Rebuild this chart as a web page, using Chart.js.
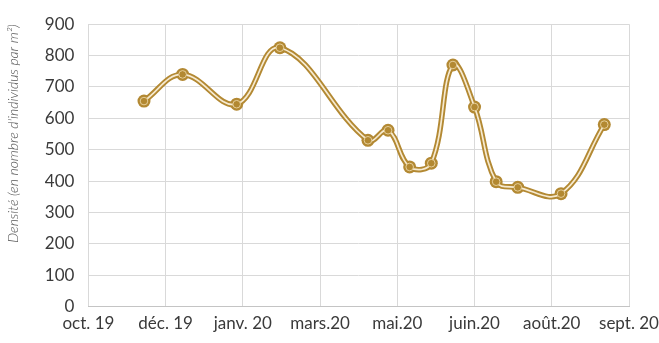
<!DOCTYPE html>
<html>
<head>
<meta charset="utf-8">
<script src="https://cdn.jsdelivr.net/npm/chart.js@4/dist/chart.umd.min.js"></script>
<style>
  html, body { margin: 0; padding: 0; background: #fff; }
  #wrap { width: 659px; height: 343px; }
</style>
</head>
<body>
<div id="wrap"><canvas id="dens"></canvas></div>
<script>
// x axis: days since mid-oct 2019, one gridline every 50 days
let tickLabels = ["oct. 19", "déc. 19", "janv. 20", "mars.20", "mai.20", "juin.20", "août.20", "sept. 20"];
let sampleDays = [36, 61, 96, 124, 181, 194, 208, 222, 236, 250, 264, 278, 306, 334];
let density = [655, 740, 645, 825, 530, 562, 445, 457, 770, 636, 398, 380, 360, 580];

let pts = sampleDays.map((d, i) => ({ x: d, y: density[i] }));

const gold = "#b38933";
const cream = "#f6ead0";

const ctx = document.getElementById('dens').getContext('2d');
const chart = new Chart(ctx, {
    type: 'line',
    data: {
        datasets: [
            // outer golden line + big dots
            {
                data: pts,
                borderColor: gold,
                borderWidth: 5.5,
                tension: 0.4,
                pointRadius: 6.5,
                pointBackgroundColor: gold,
                pointBorderWidth: 0,
                order: 3
            },
            // thin light line inside
            {
                data: pts,
                borderColor: cream,
                borderWidth: 1.7,
                tension: 0.4,
                pointRadius: 0,
                order: 2
            },
            // marker centre
            {
                data: pts,
                showLine: false,
                pointRadius: 3.8,
                pointBackgroundColor: "#b38932",
                pointBorderColor: "#e6cf9a",
                pointBorderWidth: 1,
                order: 1
            }
        ]
    },
    options: {
        responsive: true,
        maintainAspectRatio: false,
        animation: false,
        layout: { padding: { top: 0, right: 0, left: 3, bottom: 2 } },
        scales: {
            x: {
                type: 'linear',
                min: 0,
                max: 350,
                afterFit: function(scale) { scale.paddingRight = 30; },
                ticks: {
                    stepSize: 50,
                    color: "#3a3a3a",
                    padding: 7,
                    maxRotation: 0,
                    autoSkip: false,
                    font: { family: "Lato", size: 17 },
                    callback: function(v) { return tickLabels[Math.round(v / 50)]; }
                },
                grid: { color: "#d9d9d9", drawTicks: false },
                border: { color: "#c4c4c4" }
            },
            y: {
                min: 0,
                max: 900,
                ticks: {
                    stepSize: 100,
                    color: "#3a3a3a",
                    padding: 14,
                    font: { family: "Lato", size: 17 }
                },
                grid: { color: "#d9d9d9", drawTicks: false },
                border: { display: false },
                title: {
                    display: true,
                    text: "Densité (en nombre d'individus par m²)",
                    align: 'end',
                    color: "#555",
                    padding: { top: 2, bottom: 9 },
                    font: { family: "Lato", size: 14, style: 'italic', weight: '300' }
                }
            }
        },
        plugins: {
            legend: { display: false },
            tooltip: { enabled: false }
        }
    }
});
</script>
</body>
</html>
